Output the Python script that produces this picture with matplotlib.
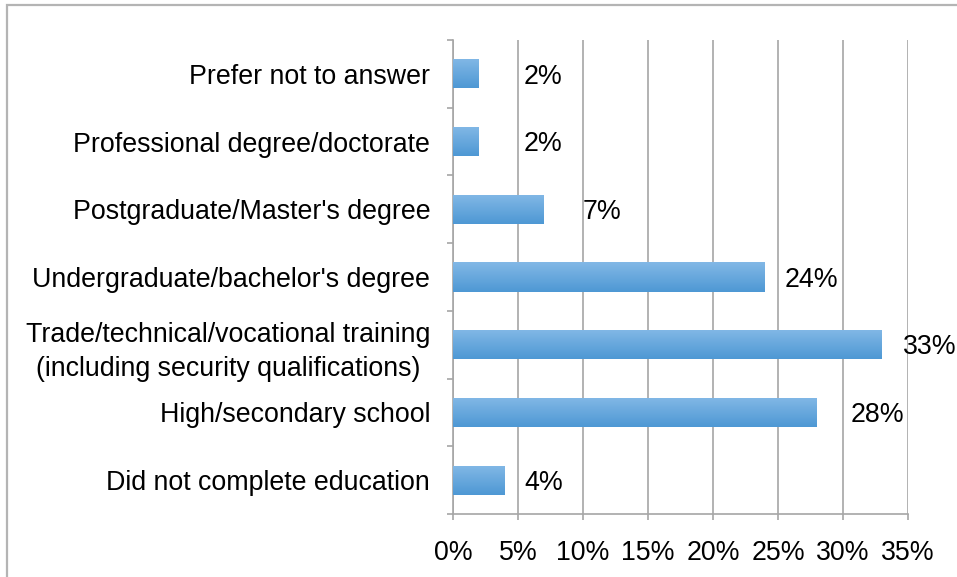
import numpy as np
import matplotlib.pyplot as plt
from matplotlib.patches import Rectangle
from matplotlib.ticker import FixedLocator, PercentFormatter
from matplotlib.colors import LinearSegmentedColormap

# Highest level of education (share of respondents)
categorias = [
    "Did not complete education",
    "High/secondary school",
    "Trade/technical/vocational training\n(including security qualifications)",
    "Undergraduate/bachelor's degree",
    "Postgraduate/Master's degree",
    "Professional degree/doctorate",
    "Prefer not to answer",
]
porcentajes = [4, 28, 33, 24, 7, 2, 2]
etiquetas = ["4%", "28%", "33%", "24%", "7%", "2%", "2%"]

# gap between bar end and its value label, in points
desplazamiento = [14, 24, 15, 14, 28, 32, 32]

plt.rcParams['font.family'] = ['Liberation Sans', 'DejaVu Sans']
GRIS = '#a6a6a6'
TAM = 19.3

fig = plt.figure(figsize=(9.57, 5.77), dpi=100)
ax = fig.add_axes([0.4734, 0.1092, 0.4754, 0.8215])

# outer chart frame
fig.patches.append(Rectangle((6.5 / 957, -0.05), 1.1, 1 - 4.5 / 577 + 0.05,
                             transform=fig.transFigure, fill=False,
                             edgecolor='#b4b4b4', linewidth=1.6))

y = np.arange(len(categorias))
barras = ax.barh(y, porcentajes, height=0.43, color='#5fa3dc', zorder=3)

# vertical gradient inside each bar
gradiente = np.linspace(0, 1, 64).reshape(-1, 1)
cmap = LinearSegmentedColormap.from_list('azul', ['#4e98d4', '#82b8e6'])
for b in barras:
    x0, y0 = b.get_x(), b.get_y()
    im = ax.imshow(gradiente, cmap=cmap, aspect='auto', origin='lower',
                   extent=[x0, x0 + b.get_width(), y0, y0 + b.get_height()],
                   zorder=4)
    im.set_clip_path(b)

for yi, v, t, d in zip(y, porcentajes, etiquetas, desplazamiento):
    ax.annotate(t, (v, yi), xytext=(d, -2), textcoords='offset points',
                ha='left', va='center', fontsize=TAM, color='black', zorder=5)

ax.set_xlim(0, 35)
ax.set_ylim(-0.5, len(categorias) - 0.5)
ax.set_xticks(np.arange(0, 36, 5))
ax.xaxis.set_major_formatter(PercentFormatter(decimals=0))

# category names on minor ticks, boundary marks on major ticks
ax.yaxis.set_major_locator(FixedLocator(np.arange(-0.5, len(categorias), 1)))
ax.yaxis.set_minor_locator(FixedLocator(y))
ax.set_yticklabels([], minor=False)
ax.set_yticklabels(categorias, minor=True, multialignment='center',
                   linespacing=1.42)
ax.tick_params(axis='y', which='minor', length=0, pad=16.5, labelsize=TAM)
ax.tick_params(axis='y', which='major', length=4.5, width=1.2, color=GRIS)
ax.tick_params(axis='x', length=4.5, width=1.2, color=GRIS, pad=14,
               labelsize=TAM)

ax.grid(axis='x', color=GRIS, linewidth=1.2, zorder=0)
ax.set_axisbelow(True)
for s in ['top', 'right']:
    ax.spines[s].set_visible(False)
for s in ['left', 'bottom']:
    ax.spines[s].set_color(GRIS)
    ax.spines[s].set_linewidth(1.2)

fig.savefig('out.png', dpi=100)
